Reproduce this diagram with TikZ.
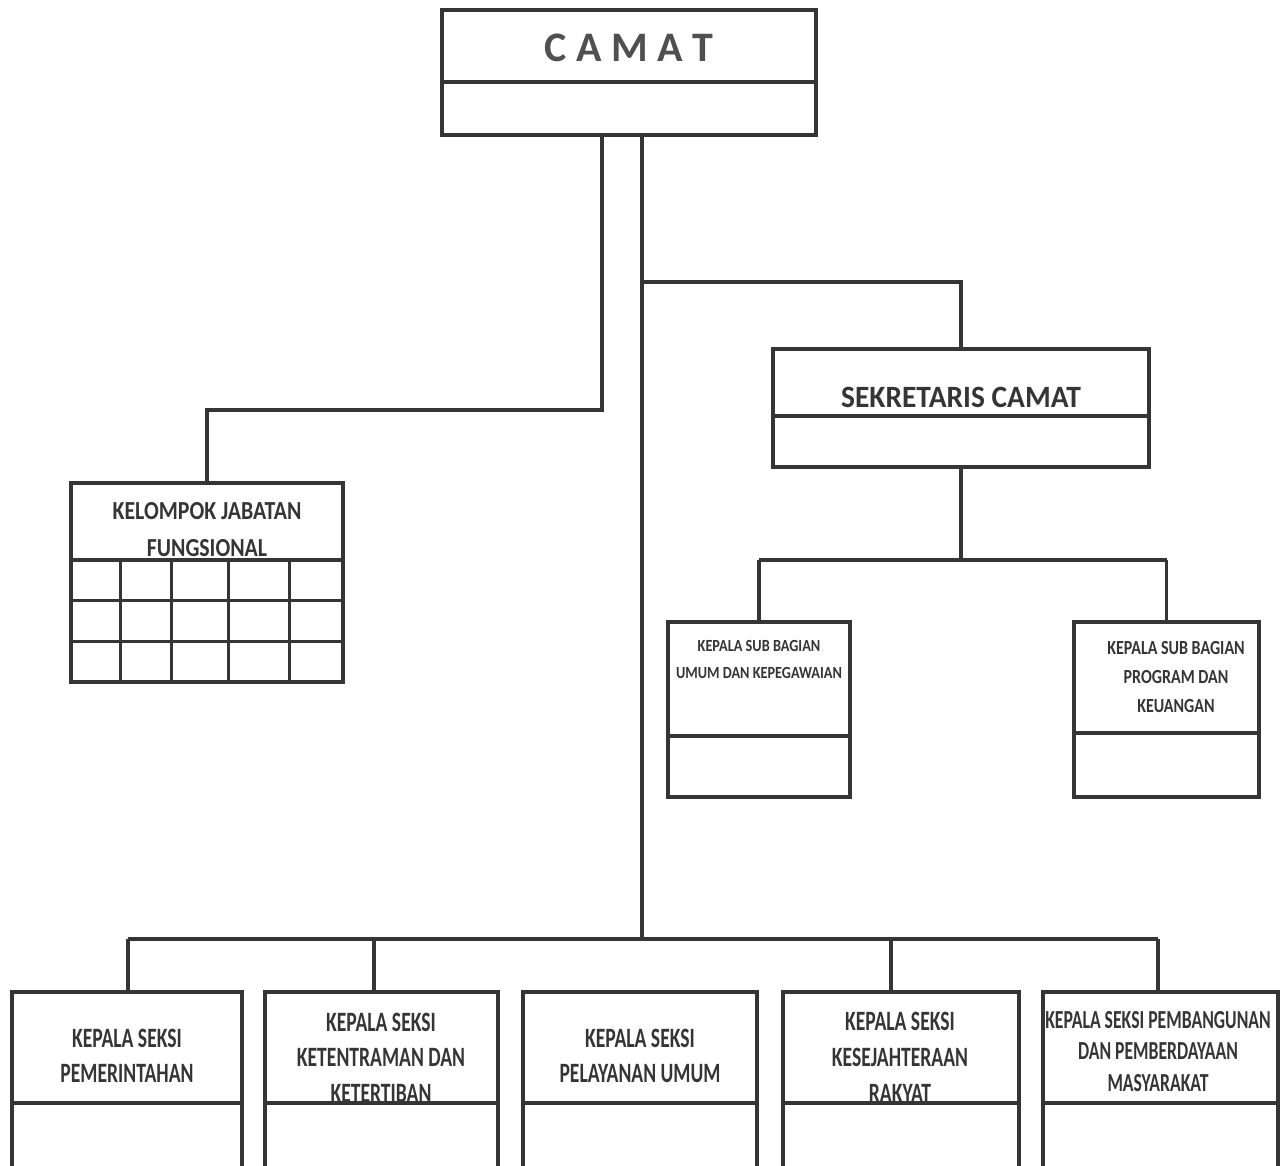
\documentclass[tikz,border=0pt]{standalone}
\usepackage{fontspec}
\setmainfont{Carlito}
\newfontfamily\fCamat{Carlito}
\newfontfamily\fSek{Carlito}[FakeStretch=0.95]
\newfontfamily\fKjf{Carlito}[FakeStretch=0.84]
\newfontfamily\fUmum{Carlito}[FakeStretch=0.84]
\newfontfamily\fProg{Carlito}[FakeStretch=0.8]
\newfontfamily\fSeksi{Carlito}[FakeStretch=0.7]
\newfontfamily\fPemb{Carlito}[FakeStretch=0.68]
\definecolor{ink}{HTML}{353535}
\definecolor{inkc}{HTML}{505050}
\begin{document}
\begin{tikzpicture}[x=1pt,y=-1pt,color=ink,
  box/.style={draw=ink, line width=3.8pt, rectangle, inner sep=0pt, outer sep=0pt, anchor=north west},
  lbl/.style={align=center, inner sep=0pt, text=ink},
  link/.style={draw=ink, line width=3.6pt},
  gridline/.style={draw=ink, line width=3pt}]
\useasboundingbox[fill=white] (0,0) rectangle (1287,1165);

% boxes
\node[box, minimum width=374pt, minimum height=125pt] (camat) at (442,10) {};
\node[box, minimum width=376pt, minimum height=118pt] (sek) at (773,349) {};
\node[box, minimum width=272pt, minimum height=199pt] (kjf) at (71,483) {};
\node[box, minimum width=182pt, minimum height=175pt] (umum) at (668,622) {};
\node[box, minimum width=185pt, minimum height=175pt] (prog) at (1074,622) {};
\node[box, minimum width=230pt, minimum height=190pt] (s1) at (12,992) {};
\node[box, minimum width=233pt, minimum height=190pt] (s2) at (265,992) {};
\node[box, minimum width=234pt, minimum height=190pt] (s3) at (523,992) {};
\node[box, minimum width=236pt, minimum height=190pt] (s4) at (783,992) {};
\node[box, minimum width=235pt, minimum height=190pt] (s5) at (1043,992) {};

% dividers
\draw[link] (442,82) -- (816,82);
\draw[link] (773,416) -- (1149,416);
\draw[link] (71,560) -- (343,560);
\draw[gridline] (71,600) -- (343,600);
\draw[gridline] (71,641) -- (343,641);
\foreach \cx in {120,171,228,289} \draw[gridline] (\cx,560) -- (\cx,682);
\draw[link] (668,736) -- (850,736);
\draw[link] (1074,733) -- (1259,733);
\foreach \bx/\ex in {12/242,265/498,523/757,783/1019,1043/1278} \draw[link] (\bx,1103) -- (\ex,1103);

% texts
\node[lbl, text=inkc, font=\fCamat\bfseries\fontsize{42}{50}\selectfont] (tcamat) at (629,48) {C A M A T};
\node[lbl, font=\fSek\bfseries\fontsize{31}{37}\selectfont] (tsek) at (961,397) {SEKRETARIS CAMAT};
\node[lbl, font=\fKjf\bfseries\fontsize{26}{37}\selectfont] (tkjf) at (207,529.5) {KELOMPOK JABATAN\\FUNGSIONAL};
\node[lbl, font=\fUmum\bfseries\fontsize{17}{27}\selectfont] (tumum) at (759,659.5) {KEPALA SUB BAGIAN\\UMUM DAN KEPEGAWAIAN};
\node[lbl, font=\fProg\bfseries\fontsize{20}{29}\selectfont] (tprog) at (1176,677) {KEPALA SUB BAGIAN\\PROGRAM DAN\\KEUANGAN};
\node[lbl, font=\fSeksi\bfseries\fontsize{28}{35}\selectfont] (ts1) at (127,1055.5) {KEPALA SEKSI\\PEMERINTAHAN};
\node[lbl, font=\fSeksi\bfseries\fontsize{28}{35.5}\selectfont] (ts2) at (381,1057.5) {KEPALA SEKSI\\KETENTRAMAN DAN\\KETERTIBAN};
\node[lbl, font=\fSeksi\bfseries\fontsize{28}{35}\selectfont] (ts3) at (640,1055.5) {KEPALA SEKSI\\PELAYANAN UMUM};
\node[lbl, font=\fSeksi\bfseries\fontsize{28}{36}\selectfont] (ts4) at (900,1057) {KEPALA SEKSI\\KESEJAHTERAAN\\RAKYAT};
\node[lbl, font=\fPemb\bfseries\fontsize{26}{31.5}\selectfont] (ts5) at (1158,1051.5) {KEPALA SEKSI PEMBANGUNAN\\DAN PEMBERDAYAAN\\MASYARAKAT};

% connectors
\coordinate (jL) at (602,410);
\coordinate (jM) at (642,282);
\coordinate (bus) at (642,939);
\coordinate (sbus) at (961,560);
\draw[link] (camat.south -| jL) -- (jL) -| (kjf.north);
\draw[link] (camat.south -| bus) -- (bus);
\draw[link] (jM) -| (sek.north);
\draw[link] (sek.south) -- (sbus);
\draw[link] (umum.north |- sbus) -- (prog.north |- sbus);
\draw[link] (umum.north |- sbus) -- (umum.north);
\draw[link] (prog.north |- sbus) -- (prog.north);
\coordinate (d1) at (128,939);
\coordinate (d2) at (374,939);
\coordinate (d4) at (891,939);
\coordinate (d5) at (1158,939);
\draw[link] (d1) -- (d5);
\draw[link] (d1) -- (d1 |- s1.north);
\draw[link] (d2) -- (d2 |- s2.north);
\draw[link] (d4) -- (d4 |- s4.north);
\draw[link] (d5) -- (d5 |- s5.north);
\end{tikzpicture}
\end{document}
